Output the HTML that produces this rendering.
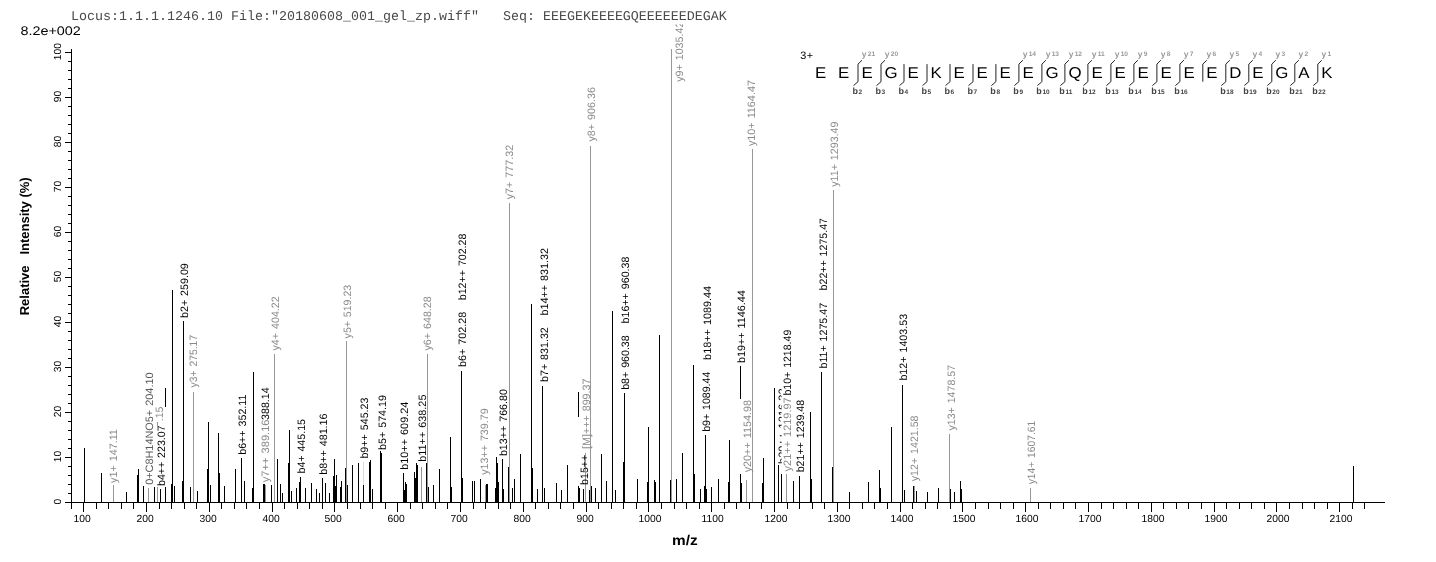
<!DOCTYPE html>
<html><head><meta charset="utf-8"><style>
html,body{margin:0;padding:0;background:#fff;}
svg{display:block;}
text{font-family:"Liberation Sans",Arial,sans-serif;text-rendering:geometricPrecision;}
.lab text{font-size:10.7px;word-spacing:1.0px;}
.tx{font-size:10.3px;fill:#000;}
.aa{font-size:15.6px;fill:#000;}
.yl{font-size:8.5px;fill:#9a9a9a;font-weight:bold;}
.yl .sub{font-size:6.6px;}
.bl{font-size:9px;font-weight:bold;fill:#444;}
.bl .sub2{font-size:6.5px;}
.chg{font-size:10.8px;fill:#000;letter-spacing:0.5px;}
.hdr{font-family:"Liberation Mono","Courier New",monospace;font-size:13.33px;fill:#4a4a4a;white-space:pre;}
.ttl{font-size:12.5px;fill:#000;}
.axl{font-weight:bold;fill:#000;}
</style></head><body>
<svg width="1436" height="562" viewBox="0 0 1436 562">
<rect width="1436" height="562" fill="#fff"/>
<g shape-rendering="crispEdges">
<rect x="84" y="448" width="1" height="54" fill="#000"/>
<rect x="101" y="473" width="1" height="29" fill="#000"/>
<rect x="113" y="485" width="1" height="17" fill="#979797"/>
<rect x="126" y="492" width="1" height="10" fill="#000"/>
<rect x="137" y="475" width="1" height="27" fill="#000"/>
<rect x="138" y="469" width="1" height="33" fill="#000"/>
<rect x="143" y="486" width="1" height="16" fill="#000"/>
<rect x="148" y="488" width="1" height="14" fill="#979797"/>
<rect x="154" y="487" width="1" height="15" fill="#000"/>
<rect x="157" y="487" width="1" height="15" fill="#979797"/>
<rect x="160" y="489" width="1" height="13" fill="#000"/>
<rect x="171" y="484" width="1" height="18" fill="#000"/>
<rect x="172" y="290" width="1" height="212" fill="#000"/>
<rect x="174" y="486" width="1" height="16" fill="#000"/>
<rect x="182" y="481" width="1" height="21" fill="#000"/>
<rect x="183" y="321" width="1" height="181" fill="#000"/>
<rect x="190" y="487" width="1" height="15" fill="#000"/>
<rect x="193" y="392" width="1" height="110" fill="#979797"/>
<rect x="197" y="491" width="1" height="11" fill="#000"/>
<rect x="207" y="469" width="1" height="33" fill="#000"/>
<rect x="208" y="422" width="1" height="80" fill="#000"/>
<rect x="210" y="485" width="1" height="17" fill="#000"/>
<rect x="218" y="433" width="1" height="69" fill="#000"/>
<rect x="219" y="473" width="1" height="29" fill="#000"/>
<rect x="224" y="486" width="1" height="16" fill="#000"/>
<rect x="235" y="469" width="1" height="33" fill="#000"/>
<rect x="241" y="458" width="1" height="44" fill="#000"/>
<rect x="244" y="481" width="1" height="21" fill="#000"/>
<rect x="252" y="488" width="1" height="14" fill="#000"/>
<rect x="253" y="372" width="1" height="130" fill="#000"/>
<rect x="263" y="484" width="1" height="18" fill="#000"/>
<rect x="264" y="484" width="1" height="18" fill="#000"/>
<rect x="265" y="485" width="1" height="17" fill="#979797"/>
<rect x="271" y="485" width="1" height="17" fill="#000"/>
<rect x="274" y="354" width="1" height="148" fill="#979797"/>
<rect x="277" y="459" width="1" height="43" fill="#000"/>
<rect x="280" y="484" width="1" height="18" fill="#000"/>
<rect x="282" y="493" width="1" height="9" fill="#000"/>
<rect x="288" y="463" width="1" height="39" fill="#000"/>
<rect x="289" y="430" width="1" height="72" fill="#000"/>
<rect x="291" y="491" width="1" height="11" fill="#000"/>
<rect x="296" y="488" width="1" height="14" fill="#000"/>
<rect x="299" y="482" width="1" height="20" fill="#000"/>
<rect x="300" y="477" width="1" height="25" fill="#000"/>
<rect x="305" y="488" width="1" height="14" fill="#000"/>
<rect x="311" y="483" width="1" height="19" fill="#000"/>
<rect x="316" y="489" width="1" height="13" fill="#000"/>
<rect x="319" y="493" width="1" height="9" fill="#000"/>
<rect x="322" y="478" width="1" height="24" fill="#000"/>
<rect x="325" y="483" width="1" height="19" fill="#000"/>
<rect x="329" y="493" width="1" height="9" fill="#000"/>
<rect x="333" y="476" width="1" height="26" fill="#000"/>
<rect x="334" y="459" width="1" height="43" fill="#000"/>
<rect x="335" y="486" width="1" height="16" fill="#000"/>
<rect x="336" y="475" width="1" height="27" fill="#000"/>
<rect x="340" y="487" width="1" height="15" fill="#000"/>
<rect x="341" y="481" width="1" height="21" fill="#000"/>
<rect x="345" y="468" width="1" height="34" fill="#000"/>
<rect x="346" y="341" width="1" height="161" fill="#979797"/>
<rect x="347" y="485" width="1" height="17" fill="#000"/>
<rect x="352" y="465" width="1" height="37" fill="#000"/>
<rect x="358" y="463" width="1" height="39" fill="#000"/>
<rect x="369" y="462" width="1" height="40" fill="#000"/>
<rect x="370" y="460" width="1" height="42" fill="#000"/>
<rect x="372" y="489" width="1" height="13" fill="#000"/>
<rect x="380" y="451" width="1" height="51" fill="#000"/>
<rect x="381" y="453" width="1" height="49" fill="#000"/>
<rect x="403" y="473" width="1" height="29" fill="#000"/>
<rect x="404" y="490" width="1" height="12" fill="#000"/>
<rect x="405" y="482" width="1" height="20" fill="#000"/>
<rect x="406" y="484" width="1" height="18" fill="#000"/>
<rect x="414" y="472" width="1" height="30" fill="#000"/>
<rect x="415" y="478" width="1" height="24" fill="#000"/>
<rect x="416" y="463" width="1" height="39" fill="#000"/>
<rect x="417" y="465" width="1" height="37" fill="#000"/>
<rect x="421" y="467" width="1" height="35" fill="#979797"/>
<rect x="426" y="463" width="1" height="39" fill="#000"/>
<rect x="427" y="354" width="1" height="148" fill="#979797"/>
<rect x="428" y="487" width="1" height="15" fill="#000"/>
<rect x="433" y="485" width="1" height="17" fill="#000"/>
<rect x="439" y="469" width="1" height="33" fill="#000"/>
<rect x="450" y="437" width="1" height="65" fill="#000"/>
<rect x="451" y="487" width="1" height="15" fill="#000"/>
<rect x="461" y="371" width="1" height="131" fill="#000"/>
<rect x="462" y="478" width="1" height="24" fill="#000"/>
<rect x="472" y="481" width="1" height="21" fill="#000"/>
<rect x="474" y="481" width="1" height="21" fill="#000"/>
<rect x="480" y="479" width="1" height="23" fill="#000"/>
<rect x="485" y="485" width="1" height="17" fill="#979797"/>
<rect x="486" y="484" width="1" height="18" fill="#000"/>
<rect x="487" y="484" width="1" height="18" fill="#000"/>
<rect x="495" y="488" width="1" height="14" fill="#000"/>
<rect x="496" y="457" width="1" height="45" fill="#000"/>
<rect x="497" y="463" width="1" height="39" fill="#000"/>
<rect x="498" y="482" width="1" height="20" fill="#000"/>
<rect x="502" y="459" width="1" height="43" fill="#000"/>
<rect x="503" y="489" width="1" height="13" fill="#000"/>
<rect x="508" y="467" width="1" height="35" fill="#000"/>
<rect x="509" y="203" width="1" height="299" fill="#979797"/>
<rect x="512" y="488" width="1" height="14" fill="#000"/>
<rect x="514" y="479" width="1" height="23" fill="#000"/>
<rect x="520" y="454" width="1" height="48" fill="#000"/>
<rect x="531" y="304" width="1" height="198" fill="#000"/>
<rect x="532" y="468" width="1" height="34" fill="#000"/>
<rect x="537" y="489" width="1" height="13" fill="#000"/>
<rect x="542" y="386" width="1" height="116" fill="#000"/>
<rect x="544" y="488" width="1" height="14" fill="#000"/>
<rect x="556" y="483" width="1" height="19" fill="#000"/>
<rect x="561" y="490" width="1" height="12" fill="#000"/>
<rect x="567" y="465" width="1" height="37" fill="#000"/>
<rect x="579" y="488" width="1" height="14" fill="#000"/>
<rect x="583" y="489" width="1" height="13" fill="#000"/>
<rect x="589" y="490" width="1" height="12" fill="#000"/>
<rect x="590" y="146" width="1" height="356" fill="#979797"/>
<rect x="591" y="486" width="1" height="16" fill="#000"/>
<rect x="595" y="488" width="1" height="14" fill="#000"/>
<rect x="601" y="454" width="1" height="48" fill="#000"/>
<rect x="606" y="481" width="1" height="21" fill="#000"/>
<rect x="612" y="311" width="1" height="191" fill="#000"/>
<rect x="615" y="490" width="1" height="12" fill="#000"/>
<rect x="623" y="462" width="1" height="40" fill="#000"/>
<rect x="624" y="393" width="1" height="109" fill="#000"/>
<rect x="637" y="479" width="1" height="23" fill="#000"/>
<rect x="647" y="482" width="1" height="20" fill="#000"/>
<rect x="648" y="427" width="1" height="75" fill="#000"/>
<rect x="654" y="480" width="1" height="22" fill="#000"/>
<rect x="655" y="482" width="1" height="20" fill="#000"/>
<rect x="659" y="335" width="1" height="167" fill="#000"/>
<rect x="670" y="480" width="1" height="22" fill="#000"/>
<rect x="671" y="49" width="1" height="453" fill="#979797"/>
<rect x="676" y="479" width="1" height="23" fill="#000"/>
<rect x="682" y="453" width="1" height="49" fill="#000"/>
<rect x="693" y="365" width="1" height="137" fill="#000"/>
<rect x="694" y="474" width="1" height="28" fill="#000"/>
<rect x="700" y="489" width="1" height="13" fill="#000"/>
<rect x="704" y="486" width="1" height="16" fill="#000"/>
<rect x="705" y="435" width="1" height="67" fill="#000"/>
<rect x="706" y="489" width="1" height="13" fill="#000"/>
<rect x="711" y="487" width="1" height="15" fill="#000"/>
<rect x="718" y="479" width="1" height="23" fill="#000"/>
<rect x="728" y="482" width="1" height="20" fill="#000"/>
<rect x="729" y="440" width="1" height="62" fill="#000"/>
<rect x="741" y="483" width="1" height="19" fill="#000"/>
<rect x="746" y="480" width="1" height="22" fill="#979797"/>
<rect x="752" y="149" width="1" height="353" fill="#979797"/>
<rect x="762" y="483" width="1" height="19" fill="#000"/>
<rect x="763" y="458" width="1" height="44" fill="#000"/>
<rect x="774" y="388" width="1" height="114" fill="#000"/>
<rect x="778" y="465" width="1" height="37" fill="#000"/>
<rect x="781" y="474" width="1" height="28" fill="#000"/>
<rect x="786" y="474" width="1" height="28" fill="#979797"/>
<rect x="793" y="481" width="1" height="21" fill="#000"/>
<rect x="799" y="476" width="1" height="26" fill="#000"/>
<rect x="810" y="412" width="1" height="90" fill="#000"/>
<rect x="811" y="479" width="1" height="23" fill="#000"/>
<rect x="821" y="372" width="1" height="130" fill="#000"/>
<rect x="832" y="467" width="1" height="35" fill="#000"/>
<rect x="833" y="190" width="1" height="312" fill="#979797"/>
<rect x="849" y="492" width="1" height="10" fill="#000"/>
<rect x="868" y="482" width="1" height="20" fill="#000"/>
<rect x="879" y="470" width="1" height="32" fill="#000"/>
<rect x="880" y="488" width="1" height="14" fill="#000"/>
<rect x="891" y="427" width="1" height="75" fill="#000"/>
<rect x="902" y="385" width="1" height="117" fill="#000"/>
<rect x="904" y="490" width="1" height="12" fill="#000"/>
<rect x="913" y="486" width="1" height="16" fill="#000"/>
<rect x="914" y="486" width="1" height="16" fill="#979797"/>
<rect x="916" y="491" width="1" height="11" fill="#000"/>
<rect x="927" y="492" width="1" height="10" fill="#000"/>
<rect x="938" y="488" width="1" height="14" fill="#000"/>
<rect x="949" y="434" width="1" height="68" fill="#979797"/>
<rect x="950" y="489" width="1" height="13" fill="#000"/>
<rect x="954" y="492" width="1" height="10" fill="#000"/>
<rect x="960" y="481" width="1" height="21" fill="#000"/>
<rect x="961" y="489" width="1" height="13" fill="#000"/>
<rect x="1030" y="488" width="1" height="14" fill="#979797"/>
<rect x="1353" y="466" width="1" height="36" fill="#000"/>
<rect x="165" y="388" width="1" height="19" fill="#000"/>
<rect x="165" y="487" width="1" height="15" fill="#000"/>
<rect x="578" y="392" width="1" height="25" fill="#000"/>
<rect x="578" y="486" width="1" height="16" fill="#000"/>
<rect x="740" y="366" width="1" height="33" fill="#000"/>
<rect x="740" y="474" width="1" height="28" fill="#000"/>
<rect x="363" y="485" width="1" height="17" fill="#000"/>
<rect x="157" y="422" width="1" height="4" fill="#979797"/>
<rect x="363" y="462" width="1" height="23" fill="#dcdcdc"/>
<rect x="585" y="453" width="1" height="49" fill="#979797"/>
<rect x="65" y="502" width="1320" height="1" fill="#000"/>
<rect x="71" y="49" width="1" height="454" fill="#000"/>
<rect x="71" y="503" width="1" height="6" fill="#000"/>
<rect x="83" y="503" width="1" height="9" fill="#000"/>
<text class="tx" x="73.50" y="521.9">100</text>
<rect x="96" y="503" width="1" height="6" fill="#000"/>
<rect x="108" y="503" width="1" height="6" fill="#000"/>
<rect x="121" y="503" width="1" height="6" fill="#000"/>
<rect x="133" y="503" width="1" height="6" fill="#000"/>
<rect x="146" y="503" width="1" height="9" fill="#000"/>
<text class="tx" x="136.50" y="521.9">200</text>
<rect x="159" y="503" width="1" height="6" fill="#000"/>
<rect x="171" y="503" width="1" height="6" fill="#000"/>
<rect x="184" y="503" width="1" height="6" fill="#000"/>
<rect x="196" y="503" width="1" height="6" fill="#000"/>
<rect x="209" y="503" width="1" height="9" fill="#000"/>
<text class="tx" x="199.50" y="521.9">300</text>
<rect x="221" y="503" width="1" height="6" fill="#000"/>
<rect x="234" y="503" width="1" height="6" fill="#000"/>
<rect x="246" y="503" width="1" height="6" fill="#000"/>
<rect x="259" y="503" width="1" height="6" fill="#000"/>
<rect x="272" y="503" width="1" height="9" fill="#000"/>
<text class="tx" x="262.50" y="521.9">400</text>
<rect x="284" y="503" width="1" height="6" fill="#000"/>
<rect x="297" y="503" width="1" height="6" fill="#000"/>
<rect x="309" y="503" width="1" height="6" fill="#000"/>
<rect x="322" y="503" width="1" height="6" fill="#000"/>
<rect x="334" y="503" width="1" height="9" fill="#000"/>
<text class="tx" x="324.50" y="521.9">500</text>
<rect x="347" y="503" width="1" height="6" fill="#000"/>
<rect x="360" y="503" width="1" height="6" fill="#000"/>
<rect x="372" y="503" width="1" height="6" fill="#000"/>
<rect x="385" y="503" width="1" height="6" fill="#000"/>
<rect x="397" y="503" width="1" height="9" fill="#000"/>
<text class="tx" x="387.50" y="521.9">600</text>
<rect x="410" y="503" width="1" height="6" fill="#000"/>
<rect x="422" y="503" width="1" height="6" fill="#000"/>
<rect x="435" y="503" width="1" height="6" fill="#000"/>
<rect x="447" y="503" width="1" height="6" fill="#000"/>
<rect x="460" y="503" width="1" height="9" fill="#000"/>
<text class="tx" x="450.50" y="521.9">700</text>
<rect x="473" y="503" width="1" height="6" fill="#000"/>
<rect x="485" y="503" width="1" height="6" fill="#000"/>
<rect x="498" y="503" width="1" height="6" fill="#000"/>
<rect x="510" y="503" width="1" height="6" fill="#000"/>
<rect x="523" y="503" width="1" height="9" fill="#000"/>
<text class="tx" x="513.50" y="521.9">800</text>
<rect x="535" y="503" width="1" height="6" fill="#000"/>
<rect x="548" y="503" width="1" height="6" fill="#000"/>
<rect x="560" y="503" width="1" height="6" fill="#000"/>
<rect x="573" y="503" width="1" height="6" fill="#000"/>
<rect x="586" y="503" width="1" height="9" fill="#000"/>
<text class="tx" x="576.50" y="521.9">900</text>
<rect x="598" y="503" width="1" height="6" fill="#000"/>
<rect x="611" y="503" width="1" height="6" fill="#000"/>
<rect x="623" y="503" width="1" height="6" fill="#000"/>
<rect x="636" y="503" width="1" height="6" fill="#000"/>
<rect x="648" y="503" width="1" height="9" fill="#000"/>
<text class="tx" x="638.50" y="521.9">1000</text>
<rect x="661" y="503" width="1" height="6" fill="#000"/>
<rect x="674" y="503" width="1" height="6" fill="#000"/>
<rect x="686" y="503" width="1" height="6" fill="#000"/>
<rect x="699" y="503" width="1" height="6" fill="#000"/>
<rect x="711" y="503" width="1" height="9" fill="#000"/>
<text class="tx" x="701.50" y="521.9">1100</text>
<rect x="724" y="503" width="1" height="6" fill="#000"/>
<rect x="736" y="503" width="1" height="6" fill="#000"/>
<rect x="749" y="503" width="1" height="6" fill="#000"/>
<rect x="761" y="503" width="1" height="6" fill="#000"/>
<rect x="774" y="503" width="1" height="9" fill="#000"/>
<text class="tx" x="764.50" y="521.9">1200</text>
<rect x="787" y="503" width="1" height="6" fill="#000"/>
<rect x="799" y="503" width="1" height="6" fill="#000"/>
<rect x="812" y="503" width="1" height="6" fill="#000"/>
<rect x="824" y="503" width="1" height="6" fill="#000"/>
<rect x="837" y="503" width="1" height="9" fill="#000"/>
<text class="tx" x="827.50" y="521.9">1300</text>
<rect x="849" y="503" width="1" height="6" fill="#000"/>
<rect x="862" y="503" width="1" height="6" fill="#000"/>
<rect x="874" y="503" width="1" height="6" fill="#000"/>
<rect x="887" y="503" width="1" height="6" fill="#000"/>
<rect x="900" y="503" width="1" height="9" fill="#000"/>
<text class="tx" x="890.50" y="521.9">1400</text>
<rect x="912" y="503" width="1" height="6" fill="#000"/>
<rect x="925" y="503" width="1" height="6" fill="#000"/>
<rect x="937" y="503" width="1" height="6" fill="#000"/>
<rect x="950" y="503" width="1" height="6" fill="#000"/>
<rect x="962" y="503" width="1" height="9" fill="#000"/>
<text class="tx" x="952.50" y="521.9">1500</text>
<rect x="975" y="503" width="1" height="6" fill="#000"/>
<rect x="988" y="503" width="1" height="6" fill="#000"/>
<rect x="1000" y="503" width="1" height="6" fill="#000"/>
<rect x="1013" y="503" width="1" height="6" fill="#000"/>
<rect x="1025" y="503" width="1" height="9" fill="#000"/>
<text class="tx" x="1015.50" y="521.9">1600</text>
<rect x="1038" y="503" width="1" height="6" fill="#000"/>
<rect x="1050" y="503" width="1" height="6" fill="#000"/>
<rect x="1063" y="503" width="1" height="6" fill="#000"/>
<rect x="1075" y="503" width="1" height="6" fill="#000"/>
<rect x="1088" y="503" width="1" height="9" fill="#000"/>
<text class="tx" x="1078.50" y="521.9">1700</text>
<rect x="1101" y="503" width="1" height="6" fill="#000"/>
<rect x="1113" y="503" width="1" height="6" fill="#000"/>
<rect x="1126" y="503" width="1" height="6" fill="#000"/>
<rect x="1138" y="503" width="1" height="6" fill="#000"/>
<rect x="1151" y="503" width="1" height="9" fill="#000"/>
<text class="tx" x="1141.50" y="521.9">1800</text>
<rect x="1163" y="503" width="1" height="6" fill="#000"/>
<rect x="1176" y="503" width="1" height="6" fill="#000"/>
<rect x="1188" y="503" width="1" height="6" fill="#000"/>
<rect x="1201" y="503" width="1" height="6" fill="#000"/>
<rect x="1214" y="503" width="1" height="9" fill="#000"/>
<text class="tx" x="1204.50" y="521.9">1900</text>
<rect x="1226" y="503" width="1" height="6" fill="#000"/>
<rect x="1239" y="503" width="1" height="6" fill="#000"/>
<rect x="1251" y="503" width="1" height="6" fill="#000"/>
<rect x="1264" y="503" width="1" height="6" fill="#000"/>
<rect x="1276" y="503" width="1" height="9" fill="#000"/>
<text class="tx" x="1266.50" y="521.9">2000</text>
<rect x="1289" y="503" width="1" height="6" fill="#000"/>
<rect x="1302" y="503" width="1" height="6" fill="#000"/>
<rect x="1314" y="503" width="1" height="6" fill="#000"/>
<rect x="1327" y="503" width="1" height="6" fill="#000"/>
<rect x="1339" y="503" width="1" height="9" fill="#000"/>
<text class="tx" x="1329.50" y="521.9">2100</text>
<rect x="1352" y="503" width="1" height="6" fill="#000"/>
<rect x="1364" y="503" width="1" height="6" fill="#000"/>
<rect x="65" y="502" width="6" height="1" fill="#000"/>
<text class="tx" transform="translate(61.2,501.6) rotate(-90)" text-anchor="middle">0</text>
<rect x="68" y="493" width="3" height="1" fill="#000"/>
<rect x="68" y="484" width="3" height="1" fill="#000"/>
<rect x="68" y="475" width="3" height="1" fill="#000"/>
<rect x="68" y="466" width="3" height="1" fill="#000"/>
<rect x="65" y="457" width="6" height="1" fill="#000"/>
<text class="tx" transform="translate(61.2,456.6) rotate(-90)" text-anchor="middle">10</text>
<rect x="68" y="448" width="3" height="1" fill="#000"/>
<rect x="68" y="439" width="3" height="1" fill="#000"/>
<rect x="68" y="430" width="3" height="1" fill="#000"/>
<rect x="68" y="421" width="3" height="1" fill="#000"/>
<rect x="65" y="412" width="6" height="1" fill="#000"/>
<text class="tx" transform="translate(61.2,411.6) rotate(-90)" text-anchor="middle">20</text>
<rect x="68" y="403" width="3" height="1" fill="#000"/>
<rect x="68" y="394" width="3" height="1" fill="#000"/>
<rect x="68" y="385" width="3" height="1" fill="#000"/>
<rect x="68" y="376" width="3" height="1" fill="#000"/>
<rect x="65" y="367" width="6" height="1" fill="#000"/>
<text class="tx" transform="translate(61.2,366.6) rotate(-90)" text-anchor="middle">30</text>
<rect x="68" y="358" width="3" height="1" fill="#000"/>
<rect x="68" y="349" width="3" height="1" fill="#000"/>
<rect x="68" y="340" width="3" height="1" fill="#000"/>
<rect x="68" y="331" width="3" height="1" fill="#000"/>
<rect x="65" y="322" width="6" height="1" fill="#000"/>
<text class="tx" transform="translate(61.2,321.6) rotate(-90)" text-anchor="middle">40</text>
<rect x="68" y="313" width="3" height="1" fill="#000"/>
<rect x="68" y="304" width="3" height="1" fill="#000"/>
<rect x="68" y="295" width="3" height="1" fill="#000"/>
<rect x="68" y="286" width="3" height="1" fill="#000"/>
<rect x="65" y="277" width="6" height="1" fill="#000"/>
<text class="tx" transform="translate(61.2,276.6) rotate(-90)" text-anchor="middle">50</text>
<rect x="68" y="268" width="3" height="1" fill="#000"/>
<rect x="68" y="259" width="3" height="1" fill="#000"/>
<rect x="68" y="250" width="3" height="1" fill="#000"/>
<rect x="68" y="241" width="3" height="1" fill="#000"/>
<rect x="65" y="232" width="6" height="1" fill="#000"/>
<text class="tx" transform="translate(61.2,231.6) rotate(-90)" text-anchor="middle">60</text>
<rect x="68" y="223" width="3" height="1" fill="#000"/>
<rect x="68" y="214" width="3" height="1" fill="#000"/>
<rect x="68" y="205" width="3" height="1" fill="#000"/>
<rect x="68" y="196" width="3" height="1" fill="#000"/>
<rect x="65" y="187" width="6" height="1" fill="#000"/>
<text class="tx" transform="translate(61.2,186.6) rotate(-90)" text-anchor="middle">70</text>
<rect x="68" y="178" width="3" height="1" fill="#000"/>
<rect x="68" y="169" width="3" height="1" fill="#000"/>
<rect x="68" y="160" width="3" height="1" fill="#000"/>
<rect x="68" y="151" width="3" height="1" fill="#000"/>
<rect x="65" y="142" width="6" height="1" fill="#000"/>
<text class="tx" transform="translate(61.2,141.6) rotate(-90)" text-anchor="middle">80</text>
<rect x="68" y="133" width="3" height="1" fill="#000"/>
<rect x="68" y="124" width="3" height="1" fill="#000"/>
<rect x="68" y="115" width="3" height="1" fill="#000"/>
<rect x="68" y="106" width="3" height="1" fill="#000"/>
<rect x="65" y="97" width="6" height="1" fill="#000"/>
<text class="tx" transform="translate(61.2,96.6) rotate(-90)" text-anchor="middle">90</text>
<rect x="68" y="88" width="3" height="1" fill="#000"/>
<rect x="68" y="79" width="3" height="1" fill="#000"/>
<rect x="68" y="70" width="3" height="1" fill="#000"/>
<rect x="68" y="61" width="3" height="1" fill="#000"/>
<rect x="65" y="52" width="6" height="1" fill="#000"/>
<text class="tx" transform="translate(61.2,51.6) rotate(-90)" text-anchor="middle">100</text>
</g>
<defs><clipPath id="cl"><rect x="0" y="24.3" width="1436" height="540"/></clipPath></defs>
<g class="lab" clip-path="url(#cl)">
<text transform="translate(117.0,482.9) rotate(-90) scale(1.006,1)" fill="#8a8a8a">y1+ 147.11</text>
<text transform="translate(162.5,421.3) rotate(-90)" fill="#8a8a8a">.15</text>
<text transform="translate(153.2,484.8) rotate(-90) scale(1.018,1)" fill="#5a5a5a">0+C8H14NO5+ 204.10</text>
<text transform="translate(165.2,486.0) rotate(-90) scale(0.992,1)" fill="#000">b4++ 223.07</text>
<text transform="translate(196.6,387.5) rotate(-90) scale(0.972,1)" fill="#8a8a8a">y3+ 275.17</text>
<text transform="translate(187.8,318.0) rotate(-90)" fill="#000">b2+ 259.09</text>
<text transform="translate(246.0,454.8) rotate(-90)" fill="#000">b6++ 352.11</text>
<text transform="translate(268.8,482.2) rotate(-90) scale(1.038,1)" fill="#8a8a8a">y7++ 389.16</text>
<text transform="translate(269.0,419.9) rotate(-90) scale(0.994,1)" fill="#000">388.14</text>
<text transform="translate(278.5,350.5) rotate(-90)" fill="#8a8a8a">y4+ 404.22</text>
<text transform="translate(305.0,473.5) rotate(-90) scale(0.994,1)" fill="#000">b4+ 445.15</text>
<text transform="translate(327.2,474.8) rotate(-90) scale(1.005,1)" fill="#000">b8++ 481.16</text>
<text transform="translate(351.0,338.4) rotate(-90) scale(0.989,1)" fill="#8a8a8a">y5+ 519.23</text>
<text transform="translate(368.3,458.6) rotate(-90)" fill="#000">b9++ 545.23</text>
<text transform="translate(385.8,449.9) rotate(-90)" fill="#000">b5+ 574.19</text>
<text transform="translate(408.0,469.8) rotate(-90) scale(1.017,1)" fill="#000">b10++ 609.24</text>
<text transform="translate(426.0,461.7) rotate(-90) scale(1.014,1)" fill="#000">b11++ 638.25</text>
<text transform="translate(431.0,350.5) rotate(-90)" fill="#8a8a8a">y6+ 648.28</text>
<text transform="translate(466.0,367.1) rotate(-90) scale(1.009,1)" fill="#000">b6+ 702.28</text>
<text transform="translate(466.3,300.2) rotate(-90) scale(0.994,1)" fill="#000">b12++ 702.28</text>
<text transform="translate(488.0,474.8) rotate(-90)" fill="#8a8a8a">y13++ 739.79</text>
<text transform="translate(507.2,456.1) rotate(-90)" fill="#000">b13++ 766.80</text>
<text transform="translate(513.0,199.3) rotate(-90) scale(1.006,1)" fill="#8a8a8a">y7+ 777.32</text>
<text transform="translate(547.5,382.0) rotate(-90)" fill="#000">b7+ 831.32</text>
<text transform="translate(547.5,315.5) rotate(-90) scale(1.007,1)" fill="#000">b14++ 831.32</text>
<text transform="translate(588.0,485.0) rotate(-90)" fill="#000">b15++</text>
<text transform="translate(590.0,449.0) rotate(-90) scale(1.004,1)" fill="#8a8a8a">[M]+++ 899.37</text>
<text transform="translate(594.5,141.6) rotate(-90) scale(1.006,1)" fill="#8a8a8a">y8+ 906.36</text>
<text transform="translate(628.7,389.8) rotate(-90) scale(0.994,1)" fill="#000">b8+ 960.38</text>
<text transform="translate(629.0,323.5) rotate(-90)" fill="#000">b16++ 960.38</text>
<text transform="translate(683.0,81.8) rotate(-90)" fill="#8a8a8a">y9+ 1035.42</text>
<text transform="translate(710.0,431.8) rotate(-90) scale(0.990,1)" fill="#000">b9+ 1089.44</text>
<text transform="translate(710.5,359.9) rotate(-90) scale(1.015,1)" fill="#000">b18++ 1089.44</text>
<text transform="translate(744.7,363.0) rotate(-90) scale(1.008,1)" fill="#000">b19++ 1146.44</text>
<text transform="translate(785.6,464.0) rotate(-90) scale(1.038,1)" fill="#000">b20++ 1216.32</text>
<rect x="781.6" y="388.0" width="11.5" height="84.0" fill="#fff"/>
<text transform="translate(750.5,472.3) rotate(-90) scale(1.011,1)" fill="#8a8a8a">y20++ 1154.98</text>
<text transform="translate(755.0,146.1) rotate(-90) scale(1.011,1)" fill="#8a8a8a">y10+ 1164.47</text>
<text transform="translate(791.0,395.5) rotate(-90) scale(0.986,1)" fill="#000">b10+ 1218.49</text>
<text transform="translate(791.0,471.4) rotate(-90) scale(1.024,1)" fill="#8a8a8a">y21++ 1219.97</text>
<text transform="translate(804.0,472.3) rotate(-90) scale(0.993,1)" fill="#000">b21++ 1239.48</text>
<text transform="translate(827.0,368.5) rotate(-90) scale(0.995,1)" fill="#000">b11+ 1275.47</text>
<text transform="translate(827.0,290.4) rotate(-90) scale(0.992,1)" fill="#000">b22++ 1275.47</text>
<text transform="translate(837.5,186.8) rotate(-90)" fill="#8a8a8a">y11+ 1293.49</text>
<text transform="translate(907.0,380.6) rotate(-90)" fill="#000">b12+ 1403.53</text>
<text transform="translate(917.5,481.2) rotate(-90) scale(0.994,1)" fill="#8a8a8a">y12+ 1421.58</text>
<text transform="translate(954.5,430.5) rotate(-90) scale(0.992,1)" fill="#8a8a8a">y13+ 1478.57</text>
<text transform="translate(1035.0,484.3) rotate(-90) scale(0.962,1)" fill="#8a8a8a">y14+ 1607.61</text>
</g>
<text class="aa" transform="translate(814.9,77.9) scale(1.08,1)">E</text>
<text class="aa" transform="translate(838.1,77.9) scale(1.08,1)">E</text>
<text class="aa" transform="translate(861.5,77.9) scale(1.08,1)">E</text>
<text class="aa" transform="translate(884.5,77.9) scale(1.08,1)">G</text>
<text class="aa" transform="translate(907.5,77.9) scale(1.08,1)">E</text>
<text class="aa" transform="translate(930.5,77.9) scale(1.08,1)">K</text>
<text class="aa" transform="translate(953.5,77.9) scale(1.08,1)">E</text>
<text class="aa" transform="translate(976.5,77.9) scale(1.08,1)">E</text>
<text class="aa" transform="translate(999.4,77.9) scale(1.08,1)">E</text>
<text class="aa" transform="translate(1022.4,77.9) scale(1.08,1)">E</text>
<text class="aa" transform="translate(1045.4,77.9) scale(1.08,1)">G</text>
<text class="aa" transform="translate(1068.4,77.9) scale(1.08,1)">Q</text>
<text class="aa" transform="translate(1091.4,77.9) scale(1.08,1)">E</text>
<text class="aa" transform="translate(1114.4,77.9) scale(1.08,1)">E</text>
<text class="aa" transform="translate(1137.4,77.9) scale(1.08,1)">E</text>
<text class="aa" transform="translate(1160.4,77.9) scale(1.08,1)">E</text>
<text class="aa" transform="translate(1183.4,77.9) scale(1.08,1)">E</text>
<text class="aa" transform="translate(1206.3,77.9) scale(1.08,1)">E</text>
<text class="aa" transform="translate(1229.3,77.9) scale(1.08,1)">D</text>
<text class="aa" transform="translate(1252.3,77.9) scale(1.08,1)">E</text>
<text class="aa" transform="translate(1275.3,77.9) scale(1.08,1)">G</text>
<text class="aa" transform="translate(1298.3,77.9) scale(1.08,1)">A</text>
<text class="aa" transform="translate(1321.3,77.9) scale(1.08,1)">K</text>
<polyline points="862.0,60.2 858.0,64.1 858.0,81.7 853.5,85.6" fill="none" stroke="#222" stroke-width="1"/>
<text class="yl" x="861.8" y="56.8">y<tspan class="sub" dx="1.2" dy="-1.0">21</tspan></text>
<text class="bl" x="852.4" y="94.4">b<tspan class="sub2" dx="0.6">2</tspan></text>
<polyline points="885.0,60.2 881.0,64.1 881.0,81.7 876.5,85.6" fill="none" stroke="#222" stroke-width="1"/>
<text class="yl" x="884.8" y="56.8">y<tspan class="sub" dx="1.2" dy="-1.0">20</tspan></text>
<text class="bl" x="875.4" y="94.4">b<tspan class="sub2" dx="0.6">3</tspan></text>
<polyline points="904.0,64.1 904.0,81.7 899.5,85.6" fill="none" stroke="#222" stroke-width="1"/>
<text class="bl" x="898.4" y="94.4">b<tspan class="sub2" dx="0.6">4</tspan></text>
<polyline points="927.0,64.1 927.0,81.7 922.5,85.6" fill="none" stroke="#222" stroke-width="1"/>
<text class="bl" x="921.4" y="94.4">b<tspan class="sub2" dx="0.6">5</tspan></text>
<polyline points="950.0,64.1 950.0,81.7 945.5,85.6" fill="none" stroke="#222" stroke-width="1"/>
<text class="bl" x="944.4" y="94.4">b<tspan class="sub2" dx="0.6">6</tspan></text>
<polyline points="973.0,64.1 973.0,81.7 968.5,85.6" fill="none" stroke="#222" stroke-width="1"/>
<text class="bl" x="967.4" y="94.4">b<tspan class="sub2" dx="0.6">7</tspan></text>
<polyline points="995.9,64.1 995.9,81.7 991.4,85.6" fill="none" stroke="#222" stroke-width="1"/>
<text class="bl" x="990.3" y="94.4">b<tspan class="sub2" dx="0.6">8</tspan></text>
<polyline points="1022.9,60.2 1018.9,64.1 1018.9,81.7 1014.4,85.6" fill="none" stroke="#222" stroke-width="1"/>
<text class="yl" x="1022.7" y="56.8">y<tspan class="sub" dx="1.2" dy="-1.0">14</tspan></text>
<text class="bl" x="1013.3" y="94.4">b<tspan class="sub2" dx="0.6">9</tspan></text>
<polyline points="1045.9,60.2 1041.9,64.1 1041.9,81.7 1037.4,85.6" fill="none" stroke="#222" stroke-width="1"/>
<text class="yl" x="1045.7" y="56.8">y<tspan class="sub" dx="1.2" dy="-1.0">13</tspan></text>
<text class="bl" x="1036.3" y="94.4">b<tspan class="sub2" dx="0.6">10</tspan></text>
<polyline points="1068.9,60.2 1064.9,64.1 1064.9,81.7 1060.4,85.6" fill="none" stroke="#222" stroke-width="1"/>
<text class="yl" x="1068.7" y="56.8">y<tspan class="sub" dx="1.2" dy="-1.0">12</tspan></text>
<text class="bl" x="1059.3" y="94.4">b<tspan class="sub2" dx="0.6">11</tspan></text>
<polyline points="1091.9,60.2 1087.9,64.1 1087.9,81.7 1083.4,85.6" fill="none" stroke="#222" stroke-width="1"/>
<text class="yl" x="1091.7" y="56.8">y<tspan class="sub" dx="1.2" dy="-1.0">11</tspan></text>
<text class="bl" x="1082.3" y="94.4">b<tspan class="sub2" dx="0.6">12</tspan></text>
<polyline points="1114.9,60.2 1110.9,64.1 1110.9,81.7 1106.4,85.6" fill="none" stroke="#222" stroke-width="1"/>
<text class="yl" x="1114.7" y="56.8">y<tspan class="sub" dx="1.2" dy="-1.0">10</tspan></text>
<text class="bl" x="1105.3" y="94.4">b<tspan class="sub2" dx="0.6">13</tspan></text>
<polyline points="1137.9,60.2 1133.9,64.1 1133.9,81.7 1129.4,85.6" fill="none" stroke="#222" stroke-width="1"/>
<text class="yl" x="1137.7" y="56.8">y<tspan class="sub" dx="1.2" dy="-1.0">9</tspan></text>
<text class="bl" x="1128.3" y="94.4">b<tspan class="sub2" dx="0.6">14</tspan></text>
<polyline points="1160.9,60.2 1156.9,64.1 1156.9,81.7 1152.4,85.6" fill="none" stroke="#222" stroke-width="1"/>
<text class="yl" x="1160.7" y="56.8">y<tspan class="sub" dx="1.2" dy="-1.0">8</tspan></text>
<text class="bl" x="1151.3" y="94.4">b<tspan class="sub2" dx="0.6">15</tspan></text>
<polyline points="1183.9,60.2 1179.9,64.1 1179.9,81.7 1175.4,85.6" fill="none" stroke="#222" stroke-width="1"/>
<text class="yl" x="1183.7" y="56.8">y<tspan class="sub" dx="1.2" dy="-1.0">7</tspan></text>
<text class="bl" x="1174.3" y="94.4">b<tspan class="sub2" dx="0.6">16</tspan></text>
<polyline points="1206.8,60.2 1202.8,64.1 1202.8,81.7" fill="none" stroke="#222" stroke-width="1"/>
<text class="yl" x="1206.6" y="56.8">y<tspan class="sub" dx="1.2" dy="-1.0">6</tspan></text>
<polyline points="1229.8,60.2 1225.8,64.1 1225.8,81.7 1221.3,85.6" fill="none" stroke="#222" stroke-width="1"/>
<text class="yl" x="1229.6" y="56.8">y<tspan class="sub" dx="1.2" dy="-1.0">5</tspan></text>
<text class="bl" x="1220.2" y="94.4">b<tspan class="sub2" dx="0.6">18</tspan></text>
<polyline points="1252.8,60.2 1248.8,64.1 1248.8,81.7 1244.3,85.6" fill="none" stroke="#222" stroke-width="1"/>
<text class="yl" x="1252.6" y="56.8">y<tspan class="sub" dx="1.2" dy="-1.0">4</tspan></text>
<text class="bl" x="1243.2" y="94.4">b<tspan class="sub2" dx="0.6">19</tspan></text>
<polyline points="1275.8,60.2 1271.8,64.1 1271.8,81.7 1267.3,85.6" fill="none" stroke="#222" stroke-width="1"/>
<text class="yl" x="1275.6" y="56.8">y<tspan class="sub" dx="1.2" dy="-1.0">3</tspan></text>
<text class="bl" x="1266.2" y="94.4">b<tspan class="sub2" dx="0.6">20</tspan></text>
<polyline points="1298.8,60.2 1294.8,64.1 1294.8,81.7 1290.3,85.6" fill="none" stroke="#222" stroke-width="1"/>
<text class="yl" x="1298.6" y="56.8">y<tspan class="sub" dx="1.2" dy="-1.0">2</tspan></text>
<text class="bl" x="1289.2" y="94.4">b<tspan class="sub2" dx="0.6">21</tspan></text>
<polyline points="1321.8,60.2 1317.8,64.1 1317.8,81.7 1313.3,85.6" fill="none" stroke="#222" stroke-width="1"/>
<text class="yl" x="1321.6" y="56.8">y<tspan class="sub" dx="1.2" dy="-1.0">1</tspan></text>
<text class="bl" x="1312.2" y="94.4">b<tspan class="sub2" dx="0.6">22</tspan></text>
<text class="chg" x="800.2" y="58.8">3+</text>
<text class="hdr" x="71" y="19.9" xml:space="preserve">Locus:1.1.1.1246.10 File:"20180608_001_gel_zp.wiff"   Seq: EEEGEKEEEEGQEEEEEEDEGAK</text>
<text class="ttl" transform="translate(20.5,34.9) scale(1.15,1)">8.2e+002</text>
<text class="axl" font-size="13" transform="translate(29.2,315.3) rotate(-90)" xml:space="preserve">Relative   Intensity (%)</text>
<text class="axl" font-size="14" transform="translate(672,544.9) scale(1.1,1)">m/z</text>
</svg>
</body></html>
